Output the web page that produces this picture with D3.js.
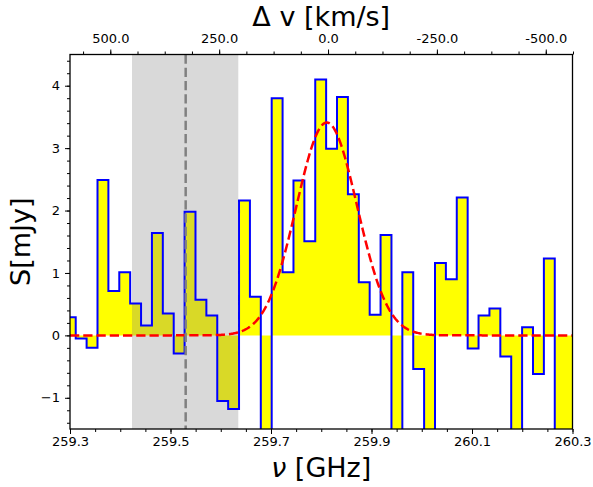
<!DOCTYPE html>
<html>
<head>
<meta charset="utf-8">
<script src="https://cdn.jsdelivr.net/npm/d3@7/dist/d3.min.js"></script>
<style>
  body { margin: 0; background: #fff; }
  text { font-family: "DejaVu Sans", sans-serif; fill: #000; }
</style>
</head>
<body>
<svg id="chart" width="593" height="487"></svg>
<script>
// ---- data ----
// channel grid (25 km/s channels), left edge of the first channel
const firstEdgeGHz = 259.28973;
const chanWidthGHz = 0.021666;
// flux per channel [mJy]; channels that drop out of the plot are set to -2
const fluxMJy = [0.29, -0.05, -0.20, 2.49, 0.71, 1.01, 0.51, 0.16, 1.64, 0.35,
                 -0.29, 1.98, 0.57, 0.32, -1.05, -1.18, 2.16, 0.62, -2.0, 3.80,
                 1.01, 2.48, 1.51, 4.10, 2.99, 3.82, 2.26, 0.85, 0.33, 1.61,
                 -2.0, 1.01, -0.54, -2.0, 1.16, 0.90, 2.21, -0.21, 0.32, 0.43,
                 -0.34, -2.0, 0.13, -0.62, 1.23, -2.0, -2.0];

// gaussian fit of the line
const fitAmp = 3.41;
const fitCenterGHz = 259.811;
const fitSigmaGHz = 0.0605;

// reference frequency for the velocity axis
const restFreqGHz = 259.8135;
const lightSpeed = 299792.458;

// shaded band and marker line
const bandGHz = [259.4234, 259.6349];
const markerGHz = 259.5302;

const freqTicks = [259.3, 259.5, 259.7, 259.9, 260.1, 260.3];
const velTicks = [500, 250, 0, -250, -500];
const fluxTicks = [-1, 0, 1, 2, 3, 4];

// ---- layout ----
const plotLeft = 70, plotRight = 572.5, plotTop = 54.5, plotBottom = 429;

const svg = d3.select("#chart");

const x = d3.scaleLinear().domain([259.3, 260.3]).range([plotLeft, plotRight]);
const y = d3.scaleLinear().domain([-1.5, 4.5]).range([plotBottom, plotTop]);

function toVel(nu) {
  return lightSpeed * (restFreqGHz - nu) / restFreqGHz;
}
const xVel = d3.scaleLinear().domain([toVel(259.3), toVel(260.3)]).range([plotLeft, plotRight]);

svg.append("clipPath")
    .attr("id", "plotClip")
  .append("rect")
    .attr("x", plotLeft)
    .attr("y", plotTop)
    .attr("width", plotRight - plotLeft)
    .attr("height", plotBottom - plotTop);

const plot = svg.append("g").attr("clip-path", "url(#plotClip)");

// step points: each channel's left edge, plus a closing point at the last right edge
let steps = fluxMJy.map((v, i) => ({nu: firstEdgeGHz + i * chanWidthGHz, v: v}));
steps.push({nu: firstEdgeGHz + fluxMJy.length * chanWidthGHz, v: fluxMJy[fluxMJy.length - 1]});

// Yellow fill between spectrum and zero
plot.append("path")
    .datum(steps)
    .attr("d", d3.area()
        .curve(d3.curveStepAfter)
        .x(d => x(d.nu))
        .y0(y(0))
        .y1(d => y(d.v)))
    .style("fill", "#ffff00");

// Shaded band
plot.append("rect")
    .attr("x", x(bandGHz[0]))
    .attr("y", plotTop)
    .attr("width", x(bandGHz[1]) - x(bandGHz[0]))
    .attr("height", plotBottom - plotTop)
    .style("fill", "rgba(128,128,128,0.3)");

// Spectrum outline
plot.append("path")
    .datum(steps)
    .attr("d", d3.line()
        .curve(d3.curveStepAfter)
        .x(d => x(d.nu))
        .y(d => y(d.v)))
    .style("fill", "none")
    .style("stroke", "#0000ff")
    .style("stroke-width", "2px")
    .style("stroke-linejoin", "miter");

// Gaussian fit, evaluated along the frequency axis
const fitNu = d3.range(0, 601).map(i => 259.3 + i / 600);
plot.append("path")
    .datum(fitNu)
    .attr("d", d3.line()
        .x(nu => x(nu))
        .y(nu => y(fitAmp * Math.exp(-0.5 * Math.pow((nu - fitCenterGHz) / fitSigmaGHz, 2)))))
    .style("fill", "none")
    .style("stroke", "#ff0000")
    .style("stroke-width", "2.5px")
    .style("stroke-dasharray", "9.25 4");

// Marker line
plot.append("line")
    .attr("x1", x(markerGHz))
    .attr("x2", x(markerGHz))
    .attr("y1", plotTop)
    .attr("y2", plotBottom)
    .style("stroke", "#808080")
    .style("stroke-width", "2.5px")
    .style("stroke-dasharray", "9.25 4");

// ---- axes ----
function styleAxis(g) {
  g.select(".domain").remove();
  g.selectAll(".tick line").style("stroke", "#000").style("stroke-width", "1px");
  g.selectAll(".tick text").style("font-size", "13px").style("font-family", "DejaVu Sans, sans-serif");
}

// bottom
svg.append("g")
    .attr("transform", `translate(0,${plotBottom})`)
    .call(d3.axisBottom(x).tickValues(d3.range(259.3, 260.31, 0.05)).tickSize(3).tickFormat(""))
    .call(styleAxis);
svg.append("g")
    .attr("transform", `translate(0,${plotBottom})`)
    .call(d3.axisBottom(x).tickValues(freqTicks).tickSize(5).tickPadding(3).tickFormat(d3.format(".1f")))
    .call(styleAxis);

// top (velocity)
svg.append("g")
    .attr("transform", `translate(0,${plotTop})`)
    .call(d3.axisTop(xVel).tickValues(d3.range(-562.5, 600, 62.5)).tickSize(3).tickFormat(""))
    .call(styleAxis);
svg.append("g")
    .attr("transform", `translate(0,${plotTop})`)
    .call(d3.axisTop(xVel).tickValues(velTicks).tickSize(5).tickPadding(6.5)
        .tickFormat(d => d3.format(".1f")(d).replace("\u2212", "-")))
    .call(styleAxis);

// left
svg.append("g")
    .attr("transform", `translate(${plotLeft},0)`)
    .call(d3.axisLeft(y).tickValues(d3.range(-1.4, 4.5, 0.2)).tickSize(3).tickFormat(""))
    .call(styleAxis);
svg.append("g")
    .attr("transform", `translate(${plotLeft},0)`)
    .call(d3.axisLeft(y).tickValues(fluxTicks).tickSize(5).tickPadding(5).tickFormat(d3.format("d")))
    .call(styleAxis);

// frame
svg.append("rect")
    .attr("x", plotLeft)
    .attr("y", plotTop)
    .attr("width", plotRight - plotLeft)
    .attr("height", plotBottom - plotTop)
    .style("fill", "none")
    .style("stroke", "#000")
    .style("stroke-width", "1.3px");

// axis titles
svg.append("text")
    .attr("x", (plotLeft + plotRight) / 2)
    .attr("y", 477)
    .attr("text-anchor", "middle")
    .style("font-size", "27px")
    .html('<tspan font-style="italic">ν</tspan> [GHz]');

svg.append("text")
    .attr("x", (plotLeft + plotRight) / 2)
    .attr("y", 26)
    .attr("text-anchor", "middle")
    .style("font-size", "27px")
    .text("Δ v [km/s]");

svg.append("text")
    .attr("transform", `translate(30,${(plotTop + plotBottom) / 2}) rotate(-90)`)
    .attr("text-anchor", "middle")
    .style("font-size", "27px")
    .text("S[mJy]");
</script>
</body>
</html>
